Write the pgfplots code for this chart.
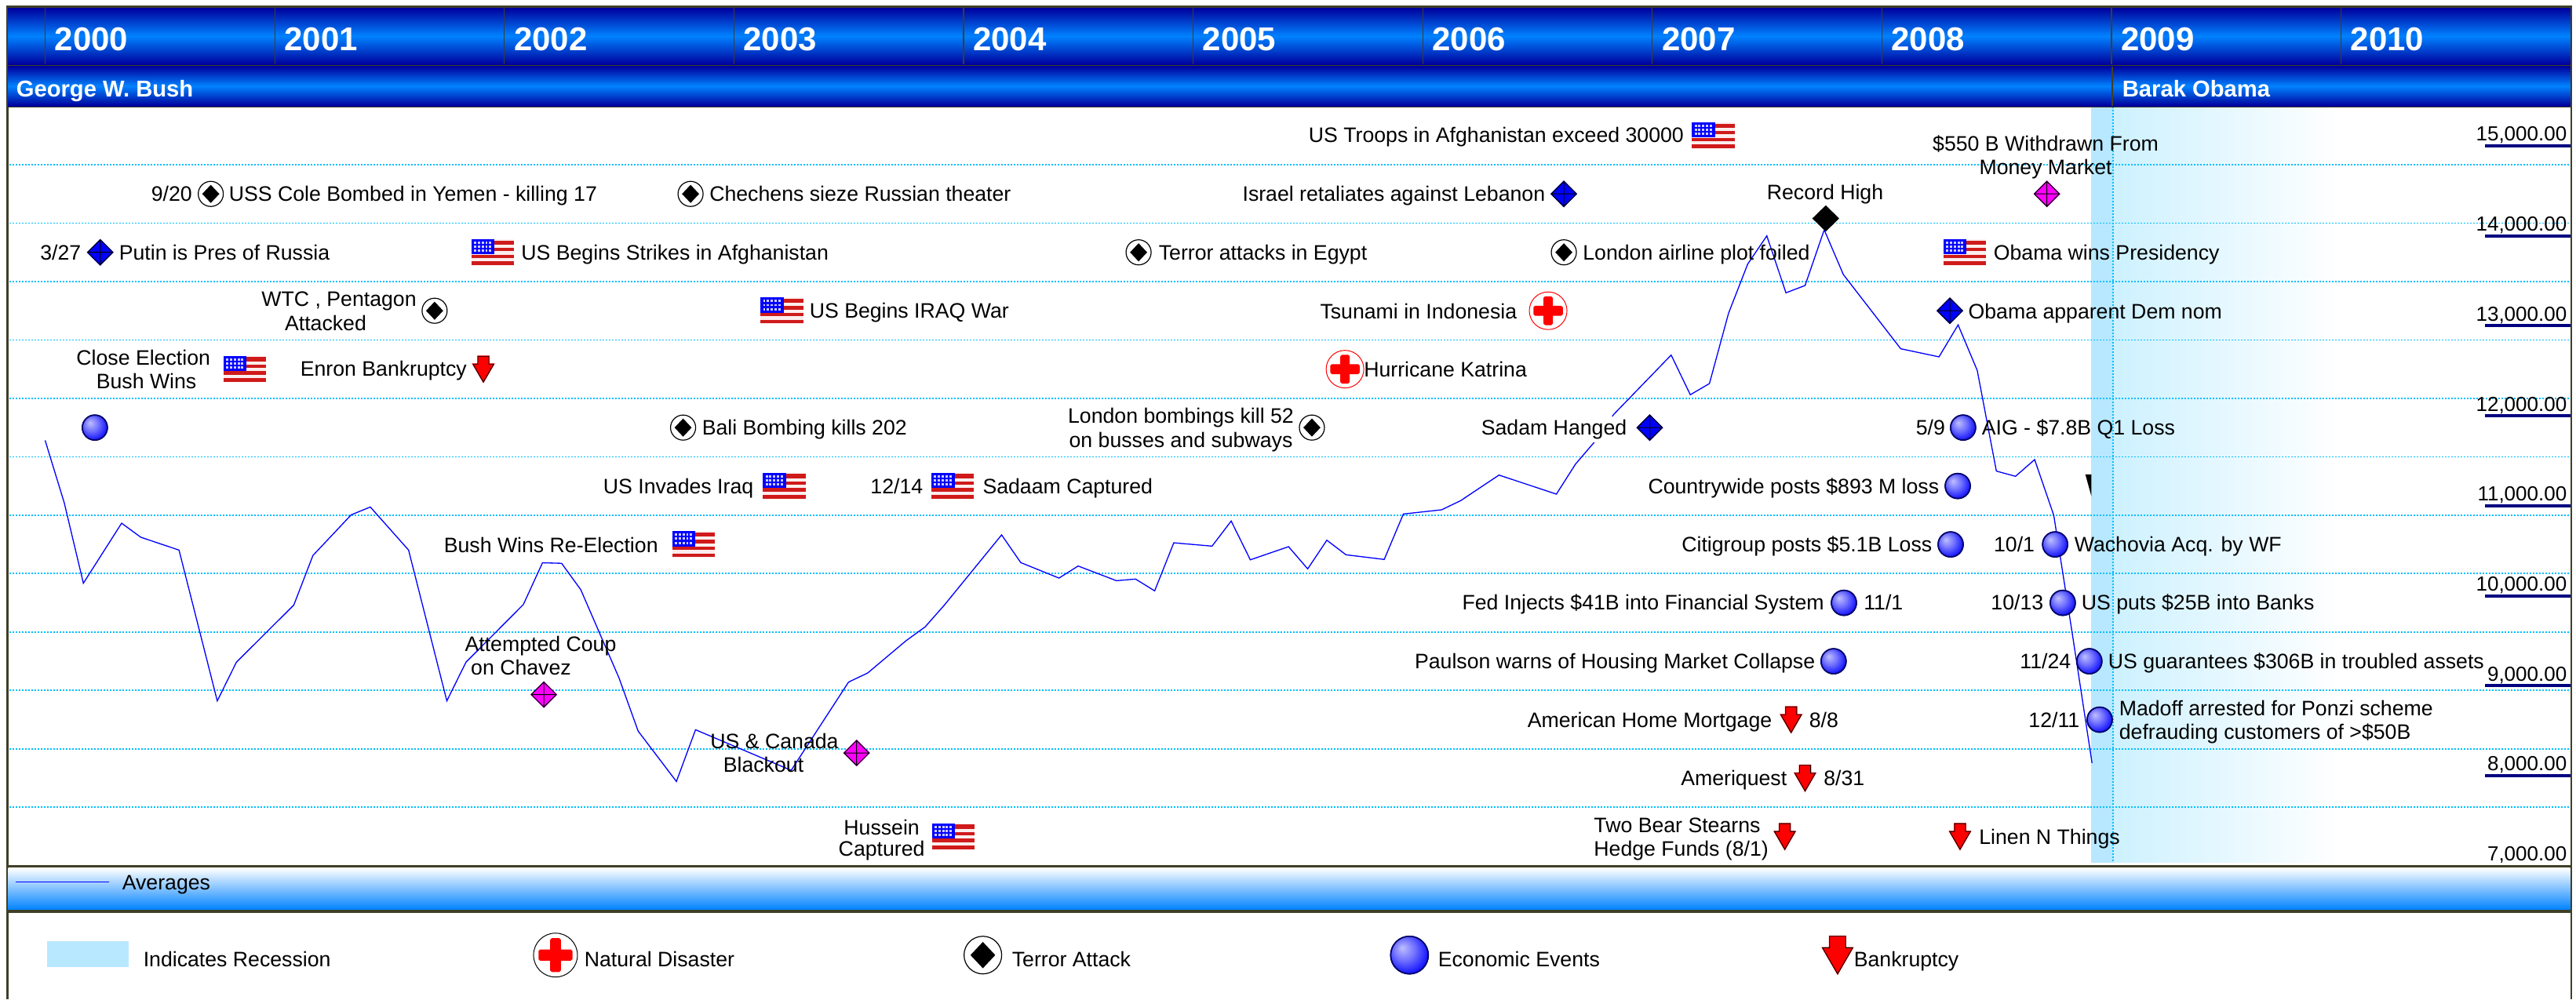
\documentclass[border=0pt]{standalone}
\usepackage{fontspec}
\setmainfont{Liberation Sans}
\usepackage{pgfplots}
\pgfplotsset{compat=1.18}
\usetikzlibrary{shadings}
\definecolor{frame}{HTML}{3F3F28}
\definecolor{bdark}{HTML}{00009C}
\definecolor{bmid}{HTML}{0082FF}
\definecolor{recA}{HTML}{B8E8FF}
\definecolor{recB}{HTML}{CDF1FF}
\definecolor{gridc}{HTML}{00BFFF}
\definecolor{navyu}{HTML}{000080}
\definecolor{flagr}{HTML}{D01A1A}
\definecolor{flagb}{HTML}{FBEDED}
\definecolor{magm}{HTML}{FF00FF}
\definecolor{redm}{HTML}{FF0000}
\definecolor{blum}{HTML}{0000FF}
\newcommand\evf{\fontsize{6.67pt}{7.65pt}\selectfont}
\pgfdeclareradialshading{ballb}{\pgfpoint{-10bp}{10bp}}{color(0bp)=(white!75!blue); color(14bp)=(white!45!blue); color(28bp)=(white!10!blue); color(50bp)=(blue)}
% ---- plot marks (sizes in pt, 1 px of the reference = 0.25 pt)
\pgfdeclareplotmark{flagm}{%
  \fill[flagb] (-6.58pt,-4pt) rectangle (6.58pt,4pt);
  \fill[flagr] (-6.58pt,3.6pt) rectangle (6.58pt,2.7pt);
  \fill[flagr] (-6.58pt,1.3pt) rectangle (6.58pt,0.6pt);
  \fill[flagr] (-6.58pt,-0.9pt) rectangle (6.58pt,-1.6pt);
  \fill[flagr] (-6.58pt,-3.1pt) rectangle (6.58pt,-3.85pt);
  \fill[blum] (-6.58pt,4pt) rectangle (0.35pt,-0.4pt);
  \foreach \xx in {-5.6,-4.4,-3.2,-2,-0.8}{\foreach \yy in {3.1,1.8,0.5}{\fill[white!80!blue] (\xx pt-0.17pt,\yy pt-0.17pt) rectangle (\xx pt+0.17pt,\yy pt+0.17pt);}}
}
\pgfdeclareplotmark{terror}{%
  \fill[white] (0pt,0pt) circle[radius=4pt];
  \draw[black,line width=0.3pt] (0pt,0pt) circle[radius=4pt];
  \fill[black] (-2.45pt,0pt) -- (0pt,2.6pt) -- (2.45pt,0pt) -- (0pt,-2.6pt) -- cycle;
}
\pgfdeclareplotmark{dmblue}{%
  \fill[blum] (-4pt,0pt) -- (0pt,4pt) -- (4pt,0pt) -- (0pt,-4pt) -- cycle;
  \draw[black,line width=0.25pt] (-4pt,0pt) -- (0pt,4pt) -- (4pt,0pt) -- (0pt,-4pt) -- cycle (-4pt,0pt) -- (4pt,0pt) (0pt,4pt) -- (0pt,-4pt);
}
\pgfdeclareplotmark{dmmag}{%
  \fill[magm] (-4pt,0pt) -- (0pt,4pt) -- (4pt,0pt) -- (0pt,-4pt) -- cycle;
  \draw[black,line width=0.25pt] (-4pt,0pt) -- (0pt,4pt) -- (4pt,0pt) -- (0pt,-4pt) -- cycle (-4pt,0pt) -- (4pt,0pt) (0pt,4pt) -- (0pt,-4pt);
}
\pgfdeclareplotmark{dmblack}{%
  \fill[black] (-4pt,0pt) -- (0pt,3.9pt) -- (4pt,0pt) -- (0pt,-3.9pt) -- cycle;
}
\pgfdeclareplotmark{ballm}{%
  \shade[shading=ballb] (0pt,0pt) circle[radius=4pt];
  \draw[navyu,line width=0.35pt] (0pt,0pt) circle[radius=4pt];
}
\pgfdeclareplotmark{crossr}{%
  \fill[white] (0pt,0pt) circle[radius=6pt];
  \draw[redm,line width=0.25pt] (0pt,0pt) circle[radius=6pt];
  \fill[redm,rounded corners=0.4pt] (-4.5pt,-1.4pt) rectangle (4.5pt,1.4pt);
  \fill[redm,rounded corners=0.4pt] (-1.3pt,-4.4pt) rectangle (1.3pt,4.4pt);
}
\pgfdeclareplotmark{crossk}{%
  \fill[white] (0pt,0pt) circle[radius=7pt];
  \draw[black,line width=0.25pt] (0pt,0pt) circle[radius=7pt];
  \fill[redm,rounded corners=0.4pt] (-5.2pt,-1.6pt) rectangle (5.2pt,1.6pt);
  \fill[redm,rounded corners=0.4pt] (-1.5pt,-5.2pt) rectangle (1.5pt,5.2pt);
}
\pgfdeclareplotmark{arrowm}{%
  \fill[redm] (-1.75pt,4.1pt) -- (1.75pt,4.1pt) -- (1.75pt,1.6pt) -- (3.3pt,1.6pt) -- (0pt,-4.1pt) -- (-3.3pt,1.6pt) -- (-1.75pt,1.6pt) -- cycle;
  \draw[black,line width=0.2pt] (-1.75pt,4.1pt) -- (1.75pt,4.1pt) -- (1.75pt,1.6pt) -- (3.3pt,1.6pt) -- (0pt,-4.1pt) -- (-3.3pt,1.6pt) -- (-1.75pt,1.6pt) -- cycle;
}
\tikzset{ev/.style={font=\evf,inner sep=0pt,text=black}}
\newcommand\LL[3]{\node[ev,anchor=base west] at (#1,{#2+9.5}) {#3};}
\newcommand\RR[3]{\node[ev,anchor=base east] at (#1,{#2+9.5}) {#3};}
\newcommand\CC[3]{\node[ev,anchor=base] at (#1,{#2+9.5}) {#3};}
% rows axis common geometry
\pgfplotsset{rowaxis/.style={scale only axis,width=817.5pt,height=241.875pt,
  at={(2pt,-33.875pt)},anchor=north west,xmin=-2.03,xmax=132.096,ymin=0.5,ymax=13.49,y dir=reverse}}
\begin{document}
\begin{tikzpicture}
\path[use as bounding box] (0pt,0pt) rectangle (820.75pt,-318.5pt);
% --- recession and row grid
\begin{axis}[rowaxis,axis on top,axis line style={draw=none},major tick length=0pt,
  ytick={1.5,2.5,3.5,4.5,5.5,6.5,7.5,8.5,9.5,10.5,11.5,12.5},yticklabels={},
  xtick={108.1},xticklabels={},ymajorgrids,xmajorgrids,
  grid style={gridc,line width=0.45pt,dash pattern=on 0.5pt off 0.5pt}]
\addplot[draw=none,fill=recA] coordinates {(106.97,0.5)(108.1,0.5)(108.1,13.49)(106.97,13.49)} -- cycle;
\addplot[draw=none,left color=recB,right color=white] coordinates {(108.1,0.5)(119.95,0.5)(119.95,13.49)(108.1,13.49)} -- cycle;
\end{axis}
% --- the averages
\begin{axis}[scale only axis,width=817.5pt,height=242.5pt,at={(2pt,-33.75pt)},anchor=north west,
  xmin=-2.03,xmax=132.096,ymin=6987.8,ymax=15444.6,axis line style={draw=none},
  xtick=\empty,ytick={7000,8000,9000,10000,11000,12000,13000,14000,15000},
  scaled y ticks=false,
  ytick pos=right,tick align=inside,major tick length=27.75pt,
  major tick style={navyu,line width=1pt},
  /pgf/number format/assume math mode=true,
  /pgf/number format/.cd,fixed,fixed zerofill,precision=2,1000 sep={,},/pgfplots/.cd,
  yticklabel style={font=\fontsize{6.5pt}{7.5pt}\selectfont,anchor=base east,inner sep=0pt,xshift=-1.5pt,yshift=1.5pt}]
\addplot[color=blum,line width=0.33pt] table {
0 11727
1 11033
2 10139
4 10806
5 10650
7 10507
9 8831
10 9261
13 9896
14 10447
16 10899
17 10986
19 10507
21 8831
22 9261
25 9902
26 10366
27 10360
28 10067
30 9086
31 8495
33 7935
34 8510
39 8059
42 9040
43 9141
45 9499
46 9653
47 9894
50 10676
51 10368
53 10196
54 10330
56 10167
57 10185
58 10054
59 10588
61 10551
62 10830
63 10399
65 10545
66 10298
67 10617
68 10455
70 10403
71 10908
73 10955
74 11057
76 11341
79 11129
80 11463
81 11711
82 12016
85 12675
86 12234
87 12358
88 13140
89 13686
90 14000
91 13367
92 13448
93 14067
94 13570
97 12745
99 12655
100 13010
101 12504
102 11385
103 11327
104 11513
105 10894
106 9534
107 8141
};
\end{axis}
% --- bands
\begin{scope}[x=0.25pt,y=-0.25pt]
\fill[frame] (8,7) rectangle (3278,137);
\shade[top color=bdark,bottom color=bdark,middle color=bmid] (10,10) rectangle (3275.5,82);
\shade[top color=bdark,bottom color=bdark,middle color=bmid] (10,84.5) rectangle (3275.5,135);
\foreach \xx in {57.5,350.1,642.7,935.3,1227.9,1520.5,1813.1,2105.7,2398.3,2690.9,2983.5}{\draw[frame,line width=0.3pt] (\xx,10) -- (\xx,82);}
\draw[frame,line width=0.3pt] (2692,84.5) -- (2692,135);
\fill[frame] (8,137) rectangle (10.5,1274);
\fill[frame] (3275.5,137) rectangle (3278,1274);
\fill[white] (10.5,1100) rectangle (3275.5,1102.5);
\fill[frame] (8,1102.5) rectangle (3278,1106.5);
\shade[top color=white,bottom color=bmid] (10.5,1106.5) rectangle (3275.5,1160);
\fill[frame] (8,1160) rectangle (3278,1164);
\end{scope}
% --- markers
\begin{axis}[rowaxis,hide axis,clip=false]
\addplot[only marks,mark=flagm] coordinates {(23.40,3)(10.44,5)(38.64,7)(33.90,8)(47.47,13)(38.51,4)(87.20,1)(47.45,7)(100.35,3)};
\addplot[only marks,mark=terror] coordinates {(8.66,2)(33.74,2)(20.36,4)(33.35,6)(57.16,3)(79.39,3)(66.22,6)};
\addplot[only marks,mark=dmblue] coordinates {(2.88,3)(79.39,2)(83.88,6)(99.57,4)};
\addplot[only marks,mark=dmmag] coordinates {(26.07,10.57)(42.42,11.57)(104.64,2)};
\addplot[only marks,mark=dmblack] coordinates {(93.08,2.42)};
\addplot[only marks,mark=ballm] coordinates {(2.60,6)(99.98,7)(99.61,8)(100.26,6)(105.07,8)(105.47,9)(106.86,10)(107.40,11)(94.03,9)(93.49,10)};
\addplot[only marks,mark=crossr] coordinates {(78.57,4)(67.95,5)};
\addplot[only marks,mark=arrowm] coordinates {(22.91,5)(100.10,13)(91.27,11)(92.00,12)(90.94,13)};
\addplot[draw=none,fill=black] coordinates {(106.65,6.80)(106.97,6.80)(106.97,7.18)} -- cycle;
% legend
\addplot[color=blum,line width=0.4pt] coordinates {(-1.54,13.78)(3.34,13.78)};
\addplot[draw=none,fill=recA] coordinates {(0.10,14.79)(4.37,14.79)(4.37,15.23)(0.10,15.23)} -- cycle;
\addplot[only marks,mark=crossk] coordinates {(26.68,15.03)};
\addplot[only marks,mark=terror,mark options={scale=1.5}] coordinates {(49.02,15.03)};
\addplot[only marks,mark=ballm,mark options={scale=1.5}] coordinates {(71.32,15.03)};
\addplot[only marks,mark=arrowm,mark options={scale=1.46}] coordinates {(93.70,15.03)};
\end{axis}
% --- texts
\begin{scope}[x=0.25pt,y=-0.25pt]
\foreach \yy/\lab in {57.5/2000,350.1/2001,642.7/2002,935.3/2003,1227.9/2004,1520.5/2005,1813.1/2006,2105.7/2007,2398.3/2008,2690.9/2009,2983.5/2010}
  {\node[anchor=base west,inner sep=0pt,text=white,font=\fontsize{10.5pt}{12pt}\selectfont\bfseries] at (\yy+11.5,65) {\lab};}
\node[anchor=base west,inner sep=0pt,text=white,font=\fontsize{7.3pt}{9pt}\selectfont\bfseries] at (20,123) {George W. Bush};
\node[anchor=base west,inner sep=0pt,text=white,font=\fontsize{7.3pt}{9pt}\selectfont\bfseries] at (2704,123) {Barak Obama};
\RR{245.5}{247}{9/20}
\LL{291}{247}{USS Cole Bombed in Yemen - killing 17}
\LL{903.5}{247}{Chechens sieze Russian theater}
\RR{104}{321.5}{3/27}
\LL{151}{321.5}{Putin is Pres of Russia}
\LL{663.6}{321.5}{US Begins Strikes in Afghanistan}
\CC{432}{381}{WTC , Pentagon}
\CC{415}{411.7}{Attacked}
\LL{1031}{395.5}{US Begins IRAQ War}
\CC{182.7}{455.5}{Close Election}
\CC{186.6}{485.5}{Bush Wins}
\LL{382}{470}{Enron Bankruptcy}
\LL{894}{545}{Bali Bombing kills 202}
\RR{961}{620}{US Invades Iraq}
\LL{565}{694.5}{Bush Wins Re-Election}
\CC{689}{821}{Attempted Coup}
\CC{664}{851}{on Chavez}
\CC{987}{945}{US \& Canada}
\CC{973}{975}{Blackout}
\CC{1123.6}{1055}{Hussein}
\CC{1123.6}{1082}{Captured}
\RR{1177}{620}{12/14}
\LL{1251.7}{620}{Sadaam Captured}
\LL{1667}{172}{US Troops in Afghanistan exceed 30000}
\RR{1970}{247}{Israel retaliates against Lebanon}
\LL{1476}{321.5}{Terror attacks in Egypt}
\LL{2016.5}{321.5}{London airline plot foiled}
\LL{1681.7}{396.5}{Tsunami in Indonesia}
\LL{1737.5}{470.5}{Hurricane Katrina}
\CC{1505}{530}{London bombings kill 52}
\CC{1505}{561}{on busses and subways}
\node[ev,anchor=base east,fill=white,inner xsep=1pt,inner ysep=1pt] at (2078,554.5) {Sadam Hanged};
\RR{2472}{620}{Countrywide posts \$893 M loss}
\RR{2463}{694}{Citigroup posts \$5.1B Loss}
\CC{2326}{245}{Record High}
\LL{2540}{321.5}{Obama wins Presidency}
\LL{2507.8}{396.5}{Obama apparent Dem nom}
\RR{2479.7}{545}{5/9}
\LL{2525}{545}{AIG - \$7.8B Q1 Loss}
\CC{2607}{183}{\$550 B Withdrawn From}
\CC{2607}{213}{Money Market}
\RR{2593.8}{694}{10/1}
\LL{2643}{694}{Wachovia Acq. by WF}
\RR{2605}{768}{10/13}
\LL{2652}{768}{US puts \$25B into Banks}
\RR{2640}{843}{11/24}
\LL{2686}{843}{US guarantees \$306B in troubled assets}
\RR{2651}{917.7}{12/11}
\LL{2700}{903}{Madoff arrested for Ponzi scheme}
\LL{2700}{933}{defrauding customers of >\$50B}
\LL{2521.5}{1067}{Linen N Things}
\RR{2325.5}{768}{Fed Injects \$41B into Financial System}
\LL{2374.5}{768}{11/1}
\RR{2314}{843}{Paulson warns of Housing Market Collapse}
\RR{2259}{918}{American Home Mortgage}
\LL{2305}{918}{8/8}
\RR{2278}{992}{Ameriquest}
\LL{2323.5}{992}{8/31}
\LL{2030.6}{1052}{Two Bear Stearns}
\LL{2030.6}{1082}{Hedge Funds (8/1)}
\LL{155}{1125}{Averages}
\LL{182}{1223}{Indicates Recession}
\LL{744}{1223}{Natural Disaster}
\LL{1289}{1223}{Terror Attack}
\LL{1832}{1223}{Economic Events}
\LL{2362}{1223}{Bankruptcy}
\end{scope}
\end{tikzpicture}
\end{document}
